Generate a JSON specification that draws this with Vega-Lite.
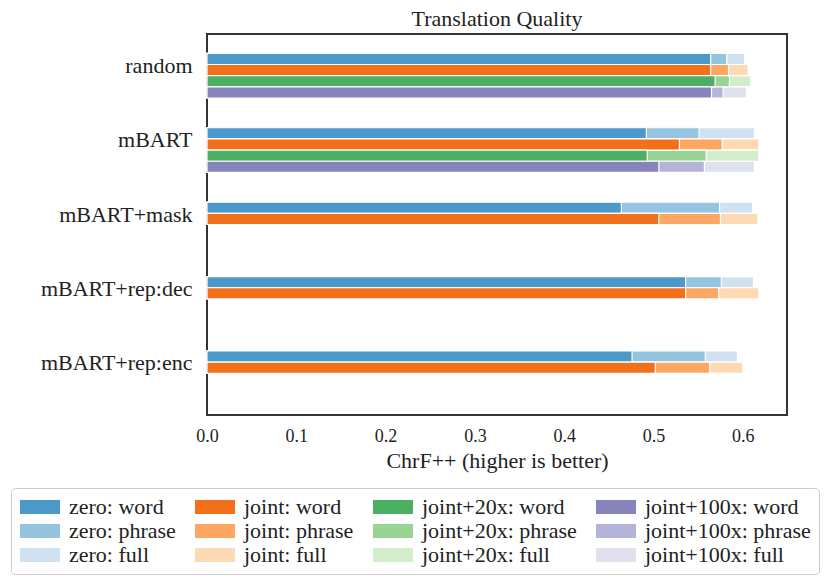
{
  "$schema": "https://vega.github.io/schema/vega-lite/v6.json",
  "width": 580,
  "height": 381,
  "autosize": {"type": "none"},
  "padding": {"left": 207, "top": 34, "right": 43, "bottom": 171},
  "config": {
    "font": "Liberation Serif",
    "view": {"stroke": "#333333", "strokeWidth": 2},
    "axis": {"grid": false, "domain": false, "ticks": false, "labelColor": "#222222", "titleColor": "#222222", "labelFont": "Liberation Serif", "titleFont": "Liberation Serif"}
  },
  "title": {"text": "Translation Quality", "fontSize": 22, "fontWeight": "normal", "color": "#222222", "font": "Liberation Serif", "offset": 3, "anchor": "middle"},
  "data": {
    "values": [
      {"model": "random", "system": "zero", "level": "full", "series": "zero: full", "value": 0.602},
      {"model": "random", "system": "joint", "level": "full", "series": "joint: full", "value": 0.606},
      {"model": "random", "system": "joint+20x", "level": "full", "series": "joint+20x: full", "value": 0.609},
      {"model": "random", "system": "joint+100x", "level": "full", "series": "joint+100x: full", "value": 0.604},
      {"model": "mBART", "system": "zero", "level": "full", "series": "zero: full", "value": 0.613},
      {"model": "mBART", "system": "joint", "level": "full", "series": "joint: full", "value": 0.618},
      {"model": "mBART", "system": "joint+20x", "level": "full", "series": "joint+20x: full", "value": 0.618},
      {"model": "mBART", "system": "joint+100x", "level": "full", "series": "joint+100x: full", "value": 0.613},
      {"model": "mBART+mask", "system": "zero", "level": "full", "series": "zero: full", "value": 0.611},
      {"model": "mBART+mask", "system": "joint", "level": "full", "series": "joint: full", "value": 0.617},
      {"model": "mBART+rep:dec", "system": "zero", "level": "full", "series": "zero: full", "value": 0.612},
      {"model": "mBART+rep:dec", "system": "joint", "level": "full", "series": "joint: full", "value": 0.618},
      {"model": "mBART+rep:enc", "system": "zero", "level": "full", "series": "zero: full", "value": 0.594},
      {"model": "mBART+rep:enc", "system": "joint", "level": "full", "series": "joint: full", "value": 0.600},

      {"model": "random", "system": "zero", "level": "phrase", "series": "zero: phrase", "value": 0.582},
      {"model": "random", "system": "joint", "level": "phrase", "series": "joint: phrase", "value": 0.584},
      {"model": "random", "system": "joint+20x", "level": "phrase", "series": "joint+20x: phrase", "value": 0.585},
      {"model": "random", "system": "joint+100x", "level": "phrase", "series": "joint+100x: phrase", "value": 0.578},
      {"model": "mBART", "system": "zero", "level": "phrase", "series": "zero: phrase", "value": 0.551},
      {"model": "mBART", "system": "joint", "level": "phrase", "series": "joint: phrase", "value": 0.577},
      {"model": "mBART", "system": "joint+20x", "level": "phrase", "series": "joint+20x: phrase", "value": 0.559},
      {"model": "mBART", "system": "joint+100x", "level": "phrase", "series": "joint+100x: phrase", "value": 0.557},
      {"model": "mBART+mask", "system": "zero", "level": "phrase", "series": "zero: phrase", "value": 0.574},
      {"model": "mBART+mask", "system": "joint", "level": "phrase", "series": "joint: phrase", "value": 0.575},
      {"model": "mBART+rep:dec", "system": "zero", "level": "phrase", "series": "zero: phrase", "value": 0.576},
      {"model": "mBART+rep:dec", "system": "joint", "level": "phrase", "series": "joint: phrase", "value": 0.573},
      {"model": "mBART+rep:enc", "system": "zero", "level": "phrase", "series": "zero: phrase", "value": 0.558},
      {"model": "mBART+rep:enc", "system": "joint", "level": "phrase", "series": "joint: phrase", "value": 0.563},

      {"model": "random", "system": "zero", "level": "word", "series": "zero: word", "value": 0.564},
      {"model": "random", "system": "joint", "level": "word", "series": "joint: word", "value": 0.564},
      {"model": "random", "system": "joint+20x", "level": "word", "series": "joint+20x: word", "value": 0.569},
      {"model": "random", "system": "joint+100x", "level": "word", "series": "joint+100x: word", "value": 0.565},
      {"model": "mBART", "system": "zero", "level": "word", "series": "zero: word", "value": 0.492},
      {"model": "mBART", "system": "joint", "level": "word", "series": "joint: word", "value": 0.529},
      {"model": "mBART", "system": "joint+20x", "level": "word", "series": "joint+20x: word", "value": 0.493},
      {"model": "mBART", "system": "joint+100x", "level": "word", "series": "joint+100x: word", "value": 0.506},
      {"model": "mBART+mask", "system": "zero", "level": "word", "series": "zero: word", "value": 0.464},
      {"model": "mBART+mask", "system": "joint", "level": "word", "series": "joint: word", "value": 0.506},
      {"model": "mBART+rep:dec", "system": "zero", "level": "word", "series": "zero: word", "value": 0.536},
      {"model": "mBART+rep:dec", "system": "joint", "level": "word", "series": "joint: word", "value": 0.536},
      {"model": "mBART+rep:enc", "system": "zero", "level": "word", "series": "zero: word", "value": 0.476},
      {"model": "mBART+rep:enc", "system": "joint", "level": "word", "series": "joint: word", "value": 0.502}
    ]
  },
  "mark": {"type": "bar", "stroke": "white", "strokeWidth": 1.2},
  "encoding": {
    "y": {
      "field": "model", "type": "nominal",
      "sort": ["random", "mBART", "mBART+mask", "mBART+rep:dec", "mBART+rep:enc"],
      "scale": {"paddingInner": 0.4, "paddingOuter": 0.26},
      "axis": {"title": null, "labelFontSize": 22, "labelOffset": -10, "labelPadding": 15}
    },
    "yOffset": {
      "field": "system", "type": "nominal",
      "sort": ["zero", "joint", "joint+20x", "joint+100x"],
      "scale": {"paddingInner": 0, "paddingOuter": 0}
    },
    "x": {
      "field": "value", "type": "quantitative", "stack": null,
      "scale": {"domain": [0, 0.6495], "nice": false, "zero": true},
      "axis": {"title": "ChrF++ (higher is better)", "values": [0, 0.1, 0.2, 0.3, 0.4, 0.5, 0.6], "format": ".1f", "labelFontSize": 18, "labelPadding": 12, "titleFontSize": 22, "titleFontWeight": "normal", "titlePadding": 5, "labelFlush": false}
    },
    "color": {
      "field": "series", "type": "nominal",
      "scale": {
        "domain": ["zero: word", "joint: word", "joint+20x: word", "joint+100x: word",
                   "zero: phrase", "joint: phrase", "joint+20x: phrase", "joint+100x: phrase",
                   "zero: full", "joint: full", "joint+20x: full", "joint+100x: full"],
        "range": ["#4b98ca", "#f3701b", "#4bb062", "#8784bc",
                  "#94c4df", "#fda762", "#98d494", "#b4b4d8",
                  "#d0e1f2", "#fdd9b4", "#d3eecd", "#e1e0ee"]
      },
      "legend": {
        "title": null, "orient": "none", "legendX": -196, "legendY": 454,
        "columns": 4, "direction": "horizontal",
        "symbolType": "M-1,-0.7H3V0.7H-1Z", "symbolSize": 400, "symbolStrokeWidth": 0,
        "labelFontSize": 22, "labelFont": "Liberation Serif", "labelColor": "#222222", "labelOffset": 28,
        "columnPadding": 18, "rowPadding": 2, "padding": 8,
        "strokeColor": "#cccccc", "fillColor": "white", "cornerRadius": 4, "labelLimit": 400
      }
    }
  }
}
